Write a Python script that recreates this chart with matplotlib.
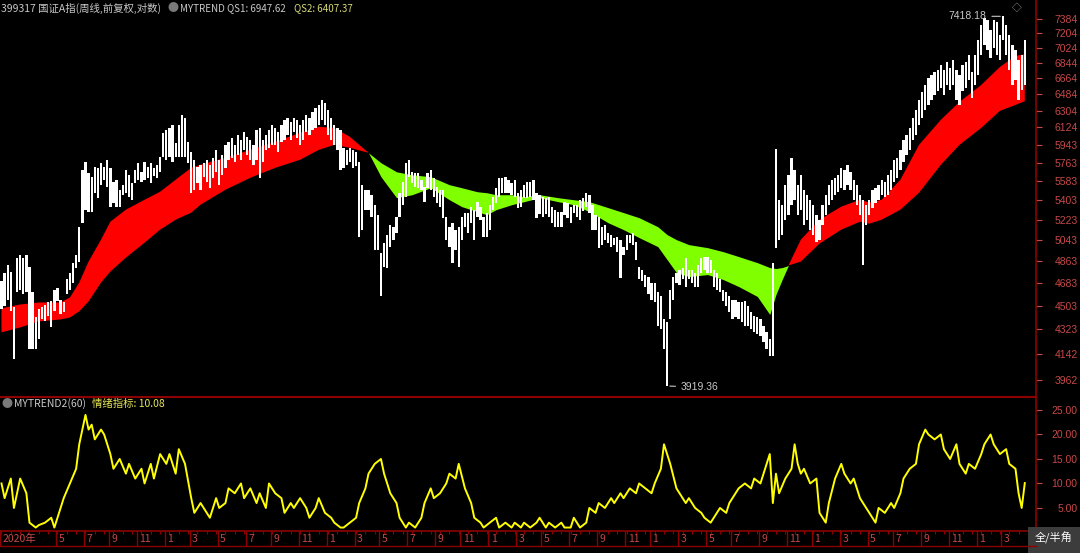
import numpy as np
import matplotlib.pyplot as plt
from matplotlib.ticker import NullLocator
from matplotlib.patches import Rectangle

plt.rcParams['font.family'] = ['Noto Sans CJK SC', 'DejaVu Sans']

# weekly high / low of 399317 (log scale)
high = [4694, 4766, 4833, 4775, 4488, 4891, 4917, 4891, 4917, 4816, 4606, 4411, 4473, 4488, 4511, 4527,
        4535, 4629, 4645, 4550, 4527, 4710, 4766, 4849, 4917, 5159, 5692, 5771, 5663, 5624, 5721, 5711,
        5761, 5721, 5791, 5711, 5576, 5595, 5499, 5547, 5692, 5643, 5566, 5692, 5761, 5672, 5771, 5721,
        5761, 5711, 5741, 5821, 6067, 6098, 6119, 6151, 5963, 6151, 6258, 6225, 5973, 5871, 5791, 5721,
        5741, 5761,
        5791, 5741, 5811, 5891, 5791, 5841, 5942, 5973, 6015, 5942, 6046, 5994, 6077, 6025, 5994, 5942,
        6098, 6119, 5994, 6046, 6098, 6151, 6119, 6077, 6151, 6204, 6225, 6183, 6225, 6204, 6151, 6204,
        6258, 6225, 6290, 6333, 6366, 6421, 6388, 6312, 6225, 6151, 6119,
        6098, 5912, 5891, 5912, 5891, 5871, 5771, 5547, 5499, 5499, 5452, 5359, 5267, 4934, 5019, 5089,
        5177, 5159, 5249, 5471, 5576, 5761, 5791, 5672, 5663, 5663, 5595, 5528, 5663, 5692, 5614, 5528,
        5499, 5499, 5249, 5159, 5195, 5133, 5159, 5249, 5286, 5286, 5341, 5313, 5387, 5341, 5249, 5286,
        5359, 5433, 5518, 5614, 5614, 5624, 5595, 5566, 5595, 5471, 5499, 5547, 5576, 5576, 5595, 5471,
        5452,
        5433, 5424, 5433, 5341, 5313, 5295, 5295, 5387, 5378, 5341, 5359, 5359, 5405, 5424, 5471, 5452,
        5359, 5267, 5249, 5159, 5177, 5107, 5089, 5063, 5071, 5045, 4985, 5089, 5089, 5107, 5028, 4816,
        4791, 4750, 4734, 4685, 4685, 4606, 4574, 4396, 4374, 4629, 4734, 4766, 4791, 4808, 4891, 4791,
        4791, 4766, 4833, 4891, 4900, 4900, 4874, 4791, 4766, 4710, 4629, 4606, 4574, 4550, 4550, 4527,
        4527, 4535, 4496, 4450, 4419, 4411, 4396, 4344, 4299, 4248, 4849,
        5901, 5405, 5359, 5547, 5643, 5811, 5692, 5547, 5643, 5499, 5452, 5405, 5359, 5267, 5222, 5359,
        5452, 5547, 5595, 5614, 5643, 5711, 5692, 5741, 5672, 5595, 5547, 5452, 5405, 5359, 5405, 5499,
        5518, 5547, 5595, 5576, 5643, 5692, 5791, 5811, 5891, 5994, 6046, 6119, 6225, 6312, 6421, 6510,
        6589, 6669, 6704, 6739, 6762, 6821, 6762, 6856, 6786, 6880, 6762, 6704, 6821, 6856, 6939, 6739,
        6939, 7121, 7308, 7396, 7371, 7245, 7371, 7346, 7183, 7418.18, 7308, 7183, 7060, 6999, 6880, 6939,
        7121]
low = [4473, 4496, 4550, 4458, 4104, 4606, 4629, 4590, 4606, 4175, 4175, 4175, 4248, 4396, 4381, 4419,
       4336, 4458, 4535, 4434, 4450, 4590, 4629, 4685, 4808, 4858, 5195, 5313, 5295, 5295, 5471, 5424,
       5547, 5595, 5528, 5341, 5378, 5341, 5341, 5452, 5471, 5433, 5405, 5566, 5595, 5576, 5595, 5614,
       5566, 5633, 5614, 5672, 5821, 5791, 5821, 5771, 5821, 5821, 5821, 5821, 5761, 5471, 5499, 5566,
       5499, 5624,
       5576, 5518, 5614, 5672, 5547, 5643, 5711, 5791, 5811, 5771, 5841, 5791, 5891, 5841, 5791, 5741,
       5791, 5614, 5771, 5891, 5912, 5942, 5942, 5871, 5973, 5994, 6046, 5994, 6077, 6015, 5942, 5994,
       6077, 6046, 6098, 6119, 6151, 6204, 6151, 6046, 5994, 5942, 5891,
       5692, 5711, 5741, 5771, 5711, 5731, 5071, 5133, 5313, 5313, 5249, 4959, 4959, 4574, 4816, 4808,
       4985, 5045, 5107, 5249, 5359, 5433, 5624, 5566, 5528, 5518, 5499, 5387, 5518, 5499, 5433, 5378,
       5341, 5240, 5045, 4985, 4849, 4959, 4816, 5045, 5159, 5107, 5195, 5045, 5249, 5222, 5071, 5071,
       5133, 5313, 5378, 5433, 5471, 5471, 5471, 5452, 5433, 5332, 5341, 5424, 5424, 5433, 5405, 5240,
       5277,
       5249, 5277, 5249, 5195, 5159, 5159, 5159, 5267, 5240, 5195, 5286, 5249, 5222, 5304, 5341, 5286,
       5133, 5133, 4976, 5002, 5045, 5019, 4985, 5002, 4942, 4726, 4917, 4959, 5019, 5002, 4874, 4710,
       4694, 4653, 4590, 4550, 4527, 4344, 4321, 4175, 3919.36, 4396, 4550, 4685, 4669, 4710, 4653, 4710,
       4685, 4653, 4653, 4766, 4791, 4766, 4766, 4653, 4629, 4606, 4535, 4496, 4450, 4396, 4411, 4396,
       4374, 4344, 4344, 4321, 4299, 4284, 4270, 4226, 4175, 4126, 4126,
       4976, 5045, 5089, 5222, 5267, 5359, 5405, 5267, 5313, 5177, 5222, 5133, 5089, 5028, 5045, 5177,
       5267, 5359, 5405, 5452, 5480, 5518, 5499, 5547, 5499, 5405, 5359, 5267, 4833, 5177, 5267, 5332,
       5378, 5405, 5452, 5433, 5452, 5499, 5576, 5614, 5692, 5771, 5841, 5891, 5994, 6046, 6151, 6225,
       6312, 6366, 6421, 6477, 6521, 6555, 6477, 6589, 6533, 6589, 6421, 6366, 6521, 6555, 6646, 6444,
       6589, 6704, 6939, 7060, 6999, 6904, 7023, 6939, 6880, 7121, 6939, 6762, 6589, 6646, 6421, 6533,
       6589]

# MYTREND band (QS1 / QS2), sampled along the weeks
band_week = [0, 6, 12, 19, 22, 25, 28, 32, 35, 40, 46, 51, 56, 61, 64, 72, 80, 88, 96, 102, 107, 112,
             118, 122, 127, 132, 138, 144, 148, 153, 156, 159, 164, 168, 173, 179, 184, 189, 195, 200,
             205, 211, 214, 217, 221, 227, 232, 237, 243, 247, 249, 251, 253, 257, 263, 270, 276, 279,
             283, 289, 295, 302, 308, 315, 321, 326, 329]
qs1 = [4481, 4511, 4527, 4527, 4566, 4685, 4858, 5045, 5204, 5313, 5405, 5480, 5595, 5711, 5741, 5811,
       5891, 5973, 6067, 6130, 6119, 6025, 5861, 5624, 5424, 5452, 5518, 5405, 5341, 5295, 5267, 5313,
       5359, 5387, 5424, 5387, 5359, 5295, 5195, 5133, 5063, 4985, 4874, 4766, 4734, 4750, 4710, 4653,
       4574, 4434, 4590, 4710, 4825, 5045, 5222, 5341, 5405, 5378, 5405, 5595, 5942, 6204, 6399, 6589,
       6797, 6927, 6947.62]
qs2 = [4299, 4336, 4381, 4396, 4411, 4458, 4535, 4685, 4775, 4891, 5019, 5133, 5222, 5286, 5359, 5499,
       5614, 5711, 5791, 5891, 5942, 5912, 5861, 5761, 5672, 5643, 5624, 5547, 5518, 5480, 5471, 5452,
       5452, 5433, 5452, 5424, 5405, 5387, 5332, 5286, 5240, 5159, 5089, 5045, 5002, 4976, 4942, 4900,
       4849, 4808, 4800, 4808, 4825, 4858, 5011, 5133, 5204, 5186, 5222, 5313, 5471, 5741, 5942, 6119,
       6301, 6366, 6407.37]

# MYTREND2(60) 情绪指标
emo_week = [0, 1, 3, 4, 6, 8, 9, 11, 12, 14, 16, 17, 19, 20, 22, 24, 25, 27, 28, 29, 30, 32, 33, 35,
            36, 38, 40, 41, 43, 45, 46, 48, 49, 51, 53, 54, 56, 57, 59, 61, 62, 64, 65, 67, 69, 70, 72,
            73, 75, 77, 78, 80, 82, 83, 85, 86, 88, 90, 91, 93, 94, 96, 98, 99, 101, 102, 104, 106, 107,
            109, 110, 112, 114, 115, 117, 118, 120, 122, 123, 125, 127, 128, 130, 131, 133, 135, 136,
            138, 139, 141, 143, 144, 146, 147, 149, 151, 152, 154, 155, 157, 159, 160, 162, 164, 165,
            167, 168, 170, 172, 173, 175, 176, 178, 180, 181, 183, 184, 186, 188, 189, 191, 192, 194,
            196, 197, 199, 200, 202, 204, 205, 207, 209, 210, 212, 213, 215, 217, 218, 220, 221, 223,
            225, 226, 228, 229, 231, 233, 234, 236, 237, 239, 241, 242, 244, 245, 247, 248, 249, 250,
            252, 254, 255, 256, 257, 258, 260, 262, 263, 265, 266, 268, 270, 271, 273, 274, 276, 278,
            279, 281, 282, 284, 286, 287, 289, 290, 292, 294, 295, 297, 298, 300, 302, 303, 305, 307,
            308, 310, 311, 313, 315, 316, 318, 319, 321, 323, 324, 326, 327, 328, 329]
emo_val = [10, 7, 11, 5, 11, 8, 2, 1, 1.5, 2, 3, 1, 5, 7, 10, 13, 18, 24, 21, 22, 19, 21, 20, 16,
           13, 15, 12, 14, 11, 13, 10, 14, 11, 16, 14, 16, 12, 17, 14, 7, 4, 6, 5, 3, 7, 5, 6,
           9, 8, 10, 7, 9, 6, 8, 5, 10, 8, 7, 4, 6, 5, 7, 5, 3, 5, 7, 4, 3, 2,
           1, 1, 2, 3, 6, 9, 12, 14, 15, 12, 8, 6, 3, 1, 2, 1, 3, 6,
           9, 7, 8, 10, 12, 11, 14, 9, 6, 3, 2, 1, 2, 3, 1, 2, 1, 2,
           1, 2, 1, 2, 3, 1, 2, 1, 2, 1, 1, 3, 1, 2, 5, 4, 6, 5,
           7, 6, 8, 7, 9, 8, 10, 9, 8, 10, 13, 18, 14, 9, 8, 6, 7, 5,
           4, 3, 2, 3, 5, 4, 6, 8, 9, 10, 9, 11, 10, 12, 16, 6, 12, 8,
           11, 13, 18, 14, 12, 13, 10, 11, 4, 2, 6, 11, 14, 12, 10, 11, 7, 5,
           4, 2, 5, 4, 6, 5, 8, 11, 13, 14, 18, 21, 20, 19, 20, 17, 15, 18,
           14, 12, 14, 13, 16, 18, 20, 18, 16, 17, 14, 13, 8, 5, 10.08]

price_ticks = [3962, 4142, 4323, 4503, 4683, 4863, 5043, 5223, 5403, 5583, 5763, 5943, 6124, 6304,
               6484, 6664, 6844, 7024, 7204, 7384]
emo_ticks = [5, 10, 15, 20, 25]
month_labels = ['2020年', '5', '7', '9', '11', '1', '3', '5', '7', '9', '11', '1', '3', '5', '7', '9',
                '11', '1', '3', '5', '7', '9', '11', '1', '3', '5', '7', '9', '11', '1', '3', '5', '7',
                '9', '11', '1', '3']
month_offset = [0, 4, 6, 8, 10, 12, 14, 16, 18, 20, 22, 24, 26, 28, 30, 32, 34, 36, 38, 40, 42, 44, 46,
                48, 50, 52, 54, 56, 58, 60, 62, 64, 66, 68, 70, 72, 74]

W, H = 1080, 553
RED = '#8c0000'
AXTXT = '#c84848'

fig = plt.figure(figsize=(W / 100, H / 100), dpi=100, facecolor='black')


def px_axes(x0, y0, w, h):
    a = fig.add_axes([x0 / W, 1 - (y0 + h) / H, w / W, h / H])
    a.set_facecolor('black')
    return a


def px_text(x, y, s, **kw):
    fig.text(x / W, 1 - y / H, s, **kw)


high = np.array(high, dtype=float)
low = np.array(low, dtype=float)
qs1 = np.array(qs1, dtype=float)
qs2 = np.array(qs2, dtype=float)
weeks = np.arange(len(high))
xlim = (-0.48, 332.6)

# ---- main panel ----
ax = px_axes(0, 0, 1036, 396)
ax.set_yscale('log')
ax.fill_between(band_week, qs1, qs2, where=qs1 >= qs2, interpolate=True, color='#ff0000', lw=0, zorder=2)
ax.fill_between(band_week, qs1, qs2, where=qs1 <= qs2, interpolate=True, color='#80ff00', lw=0, zorder=2)
ax.bar(weeks, high - low, bottom=low, width=0.74, color='white', lw=0, zorder=3)
ax.set_xlim(*xlim)
ax.set_ylim(3852, 7630)

imax = int(np.argmax(high))
imin = int(np.argmin(low))
ax.annotate(f'{high[imax]:.2f}', xy=(imax, high[imax]), xytext=(-12, 0), textcoords='offset points',
            ha='right', va='center', color='#c8c8c8', fontsize=7.5, family=['Liberation Sans'],
            arrowprops=dict(arrowstyle='-', color='#c8c8c8', lw=0.8))
ax.annotate(f'{low[imin]:.2f}', xy=(imin, low[imin]), xytext=(10, -1), textcoords='offset points',
            ha='left', va='center', color='#c8c8c8', fontsize=7.5, family=['Liberation Sans'],
            arrowprops=dict(arrowstyle='-', color='#c8c8c8', lw=0.8))

ax.yaxis.tick_right()
ax.set_yticks(price_ticks)
ax.set_yticklabels([str(t) for t in price_ticks])
ax.yaxis.set_minor_locator(NullLocator())
ax.set_xticks([])

# ---- lower panel ----
ax2 = px_axes(0, 397, 1036, 133)
ax2.plot(emo_week, emo_val, color='#ffff00', lw=1.4)
ax2.set_xlim(*xlim)
ax2.set_ylim(0.5, 27.65)
ax2.yaxis.tick_right()
ax2.set_yticks(emo_ticks)
ax2.set_yticklabels([f'{t:.2f}' for t in emo_ticks])
ax2.set_xticks([])

for a in (ax, ax2):
    for s in ('left', 'bottom', 'top'):
        a.spines[s].set_visible(False)
    a.spines['right'].set_color(RED)
    a.spines['right'].set_linewidth(1.2)
    a.tick_params(axis='y', colors=AXTXT, labelsize=7.5, length=4, width=0.8, pad=26)
    for lab in a.get_yticklabels():
        lab.set_horizontalalignment('right')
        lab.set_family(['Liberation Sans'])
ax2.spines['top'].set_visible(True)
ax2.spines['top'].set_color(RED)
ax2.spines['top'].set_linewidth(1.5)

# ---- date strip ----
axd = px_axes(0, 531, 1036, 15)
axd.set_xlim(*xlim)
axd.set_ylim(0, 1)
for s in ('left', 'right', 'bottom'):
    axd.spines[s].set_visible(False)
axd.spines['top'].set_color(RED)
axd.spines['top'].set_linewidth(1.2)
axd.set_xticks(np.arange(0, len(high), 3))
axd.set_xticklabels([])
axd.tick_params(axis='x', direction='in', top=True, bottom=False, length=2, color=RED, width=0.8)
axd.set_yticks([])
month_week = np.ceil(np.array(month_offset) * 52.18 / 12)
for lab, wk in zip(month_labels, month_week):
    axd.axvline(wk - 0.5, color=RED, lw=1.0)
    axd.text(wk + 0.3, 0.45, lab, color=AXTXT, fontsize=7.5, va='center', ha='left')
fig.add_artist(plt.Line2D([0, 1036 / W], [1 - 546 / H, 1 - 546 / H], color=RED, lw=1))

# ---- header texts ----
px_text(1, 8, '399317 国证A指(周线,前复权,对数)', color='#c8c8c8', fontsize=7.5, va='center')
px_text(167, 8, '●', color='#7a7a7a', fontsize=8, va='center')
px_text(180, 8, 'MYTREND QS1: 6947.62', color='#c8c8c8', fontsize=7, va='center')
px_text(294, 8, 'QS2: 6407.37', color='#d8d878', fontsize=7, va='center')
px_text(1012, 8, '◇', color='#a0a0a0', fontsize=7, va='center')

px_text(1, 404, '●', color='#7a7a7a', fontsize=8, va='center')
px_text(14, 404, 'MYTREND2(60)', color='#c8c8c8', fontsize=7.5, va='center')
px_text(92, 404, '情绪指标: 10.08', color='#e6e65a', fontsize=7.5, va='center')

# 全/半角 box
fig.add_artist(Rectangle((1028 / W, 0), 52 / W, 26 / H, transform=fig.transFigure,
                         facecolor='#3c3c3c', edgecolor='none'))
px_text(1054, 538, '全/半角', color='white', fontsize=8, va='center', ha='center')

fig.savefig('out.png', dpi=100, facecolor='black')
